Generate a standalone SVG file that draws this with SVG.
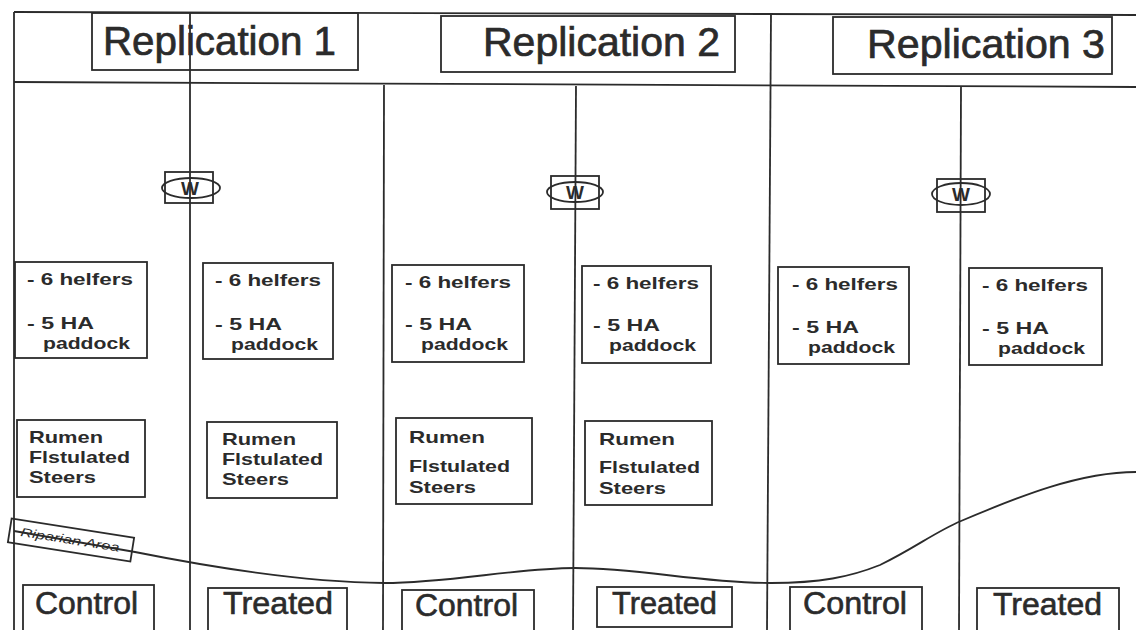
<svg xmlns="http://www.w3.org/2000/svg" width="1136" height="630" viewBox="0 0 1136 630">
<style>
.ln{stroke:#2b2b2b;stroke-width:1.8;fill:none}
.bx{stroke:#2b2b2b;stroke-width:1.8;fill:none}
.t{font-family:"Liberation Sans",Arial,sans-serif;fill:#2b2b2b}
.hd{font-size:40px;stroke:#2b2b2b;stroke-width:0.7}
.sm{font-size:17px;font-weight:bold}
.lb{font-size:31px;stroke:#2b2b2b;stroke-width:0.6}
.w{font-size:19px;font-weight:bold;text-anchor:middle}
.rp{font-size:12px;font-style:italic}
</style>
<rect width="1136" height="630" fill="#ffffff"/>
<g id="grid">
<line class="ln" x1="14" y1="12" x2="1136" y2="15"/>
<line class="ln" x1="14" y1="82" x2="1136" y2="87"/>
<line class="ln" x1="14" y1="12" x2="14" y2="630"/>
<line class="ln" x1="190" y1="12" x2="190" y2="630"/>
<line class="ln" x1="384" y1="85" x2="383" y2="630"/>
<line class="ln" x1="576" y1="86" x2="573" y2="630"/>
<line class="ln" x1="771" y1="14" x2="767" y2="630"/>
<line class="ln" x1="961" y1="87" x2="959" y2="630"/>
</g>
<g id="connectors">
<path class="ln" d="M14,531 C60,539 100,546 135,552 C200,565 300,582 384,583 C450,583 515,568 575,568 C640,568 700,583 771,583 C820,583 850,577 880,565 C915,548 935,532 961,521 C1020,496 1080,472 1136,472"/>
</g>
<g id="riparian" transform="translate(71,540) rotate(9)">
<rect class="bx" x="-62" y="-12" width="124" height="24"/>
<text class="t rp" x="-51" y="4" textLength="100" lengthAdjust="spacingAndGlyphs">Riparian Area</text>
</g>
<g id="rep1">
<rect class="bx" x="92" y="13" width="266" height="57"/>
<text class="t hd" x="103" y="55" textLength="233" lengthAdjust="spacingAndGlyphs">Replication 1</text>
</g>
<g id="rep2">
<rect class="bx" x="441" y="16" width="294" height="56"/>
<text class="t hd" x="483" y="56" textLength="237" lengthAdjust="spacingAndGlyphs">Replication 2</text>
</g>
<g id="rep3">
<rect class="bx" x="833" y="17" width="279" height="57"/>
<text class="t hd" x="867" y="58" textLength="238" lengthAdjust="spacingAndGlyphs">Replication 3</text>
</g>
<g id="w1">
<rect class="bx" x="165" y="172" width="48" height="31"/>
<ellipse class="bx" cx="191" cy="188" rx="29" ry="10"/>
<text class="t w" x="190" y="195">W</text>
</g>
<g id="w2">
<rect class="bx" x="551" y="176" width="48" height="33"/>
<ellipse class="bx" cx="575" cy="192" rx="28" ry="10"/>
<text class="t w" x="575" y="199">W</text>
</g>
<g id="w3">
<rect class="bx" x="937" y="179" width="48" height="33"/>
<ellipse class="bx" cx="961" cy="194" rx="29" ry="11"/>
<text class="t w" x="961" y="201">W</text>
</g>
<g id="herd1c">
<rect class="bx" x="15" y="262" width="132" height="96"/>
<text class="t sm" x="27" y="285" textLength="106" lengthAdjust="spacingAndGlyphs">- 6 helfers</text>
<text class="t sm" x="27" y="329" textLength="67" lengthAdjust="spacingAndGlyphs">- 5 HA</text>
<text class="t sm" x="43" y="349" textLength="87" lengthAdjust="spacingAndGlyphs">paddock</text>
</g>
<g id="herd1t">
<rect class="bx" x="203" y="263" width="130" height="96"/>
<text class="t sm" x="215" y="286" textLength="106" lengthAdjust="spacingAndGlyphs">- 6 helfers</text>
<text class="t sm" x="215" y="330" textLength="67" lengthAdjust="spacingAndGlyphs">- 5 HA</text>
<text class="t sm" x="231" y="350" textLength="87" lengthAdjust="spacingAndGlyphs">paddock</text>
</g>
<g id="herd2c">
<rect class="bx" x="392" y="265" width="132" height="97"/>
<text class="t sm" x="405" y="288" textLength="106" lengthAdjust="spacingAndGlyphs">- 6 helfers</text>
<text class="t sm" x="405" y="330" textLength="67" lengthAdjust="spacingAndGlyphs">- 5 HA</text>
<text class="t sm" x="421" y="350" textLength="87" lengthAdjust="spacingAndGlyphs">paddock</text>
</g>
<g id="herd2t">
<rect class="bx" x="582" y="266" width="129" height="97"/>
<text class="t sm" x="593" y="289" textLength="106" lengthAdjust="spacingAndGlyphs">- 6 helfers</text>
<text class="t sm" x="593" y="331" textLength="67" lengthAdjust="spacingAndGlyphs">- 5 HA</text>
<text class="t sm" x="609" y="351" textLength="87" lengthAdjust="spacingAndGlyphs">paddock</text>
</g>
<g id="herd3c">
<rect class="bx" x="778" y="267" width="131" height="97"/>
<text class="t sm" x="792" y="290" textLength="106" lengthAdjust="spacingAndGlyphs">- 6 helfers</text>
<text class="t sm" x="792" y="333" textLength="67" lengthAdjust="spacingAndGlyphs">- 5 HA</text>
<text class="t sm" x="808" y="353" textLength="87" lengthAdjust="spacingAndGlyphs">paddock</text>
</g>
<g id="herd3t">
<rect class="bx" x="969" y="268" width="133" height="97"/>
<text class="t sm" x="982" y="291" textLength="106" lengthAdjust="spacingAndGlyphs">- 6 helfers</text>
<text class="t sm" x="982" y="334" textLength="67" lengthAdjust="spacingAndGlyphs">- 5 HA</text>
<text class="t sm" x="998" y="354" textLength="87" lengthAdjust="spacingAndGlyphs">paddock</text>
</g>
<g id="steers1c">
<rect class="bx" x="17" y="420" width="128" height="77"/>
<text class="t sm" x="29" y="443" textLength="74" lengthAdjust="spacingAndGlyphs">Rumen</text>
<text class="t sm" x="29" y="463" textLength="101" lengthAdjust="spacingAndGlyphs">Flstulated</text>
<text class="t sm" x="29" y="483" textLength="67" lengthAdjust="spacingAndGlyphs">Steers</text>
</g>
<g id="steers1t">
<rect class="bx" x="207" y="422" width="130" height="76"/>
<text class="t sm" x="222" y="445" textLength="74" lengthAdjust="spacingAndGlyphs">Rumen</text>
<text class="t sm" x="222" y="465" textLength="101" lengthAdjust="spacingAndGlyphs">Flstulated</text>
<text class="t sm" x="222" y="485" textLength="67" lengthAdjust="spacingAndGlyphs">Steers</text>
</g>
<g id="steers2c">
<rect class="bx" x="396" y="418" width="136" height="86"/>
<text class="t sm" x="409" y="443" textLength="76" lengthAdjust="spacingAndGlyphs">Rumen</text>
<text class="t sm" x="409" y="472" textLength="101" lengthAdjust="spacingAndGlyphs">Flstulated</text>
<text class="t sm" x="409" y="493" textLength="67" lengthAdjust="spacingAndGlyphs">Steers</text>
</g>
<g id="steers2t">
<rect class="bx" x="585" y="421" width="127" height="84"/>
<text class="t sm" x="599" y="445" textLength="76" lengthAdjust="spacingAndGlyphs">Rumen</text>
<text class="t sm" x="599" y="473" textLength="101" lengthAdjust="spacingAndGlyphs">Flstulated</text>
<text class="t sm" x="599" y="494" textLength="67" lengthAdjust="spacingAndGlyphs">Steers</text>
</g>
<g id="ctrl1">
<rect class="bx" x="23" y="585" width="131" height="50"/>
<text class="t lb" x="35" y="614" textLength="103" lengthAdjust="spacingAndGlyphs">Control</text>
</g>
<g id="trt1">
<rect class="bx" x="208" y="588" width="139" height="47"/>
<text class="t lb" x="223" y="614" textLength="110" lengthAdjust="spacingAndGlyphs">Treated</text>
</g>
<g id="ctrl2">
<rect class="bx" x="402" y="590" width="132" height="45"/>
<text class="t lb" x="415" y="616" textLength="103" lengthAdjust="spacingAndGlyphs">Control</text>
</g>
<g id="trt2">
<rect class="bx" x="597" y="587" width="135" height="40"/>
<text class="t lb" x="612" y="614" textLength="105" lengthAdjust="spacingAndGlyphs">Treated</text>
</g>
<g id="ctrl3">
<rect class="bx" x="790" y="587" width="132" height="48"/>
<text class="t lb" x="803" y="614" textLength="104" lengthAdjust="spacingAndGlyphs">Control</text>
</g>
<g id="trt3">
<rect class="bx" x="977" y="588" width="142" height="47"/>
<text class="t lb" x="993" y="615" textLength="109" lengthAdjust="spacingAndGlyphs">Treated</text>
</g>
</svg>
